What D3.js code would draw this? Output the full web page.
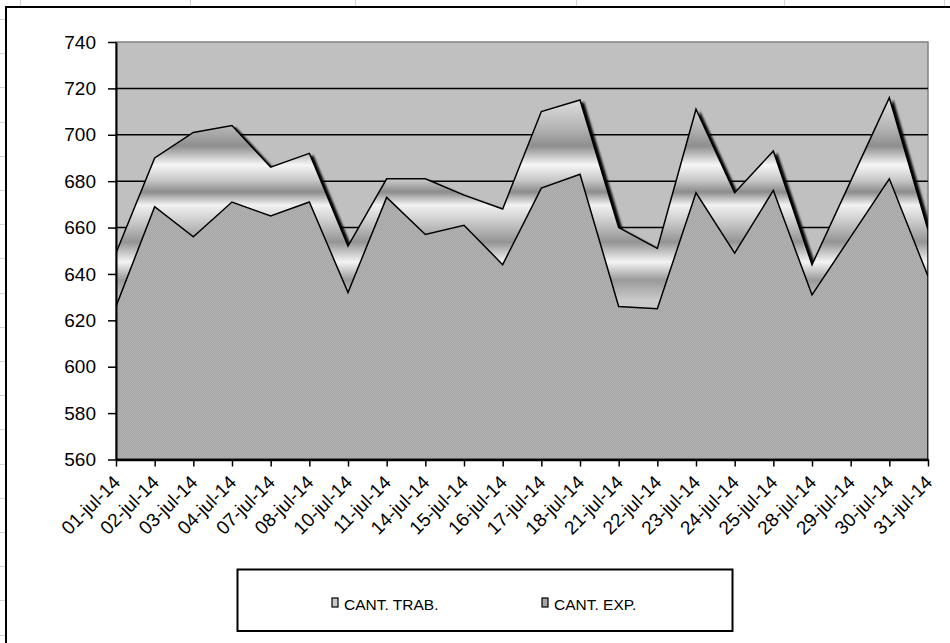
<!DOCTYPE html>
<html>
<head>
<meta charset="utf-8">
<script src="https://cdn.jsdelivr.net/npm/d3@7"></script>
<style>
  body { margin: 0; background: #fff; }
  svg { display: block; font-family: "Liberation Sans", Arial, sans-serif; }
  .tick text { font-size: 19px; fill: #000; }
  .legend-text { font-size: 15.5px; }
</style>
</head>
<body>
<div id="chart"></div>
<script>
// Datos
const dates = ["01-jul-14","02-jul-14","03-jul-14","04-jul-14","07-jul-14","08-jul-14","10-jul-14",
  "11-jul-14","14-jul-14","15-jul-14","16-jul-14","17-jul-14","18-jul-14","21-jul-14","22-jul-14",
  "23-jul-14","24-jul-14","25-jul-14","28-jul-14","29-jul-14","30-jul-14","31-jul-14"]
const cantTrab = [649,690,701,704,686,692,652,681,681,674,668,710,715,660,651,711,675,693,644,680,716,659]
const cantExp  = [626,669,656,671,665,671,632,673,657,661,644,677,683,626,625,675,649,676,631,656,681,639]
const yTicks = [560,580,600,620,640,660,680,700,720,740]
const seriesNames = ["CANT. TRAB.", "CANT. EXP."]

const width = 950
const height = 643

// Área del gráfico
const plot = { left: 116, right: 928, top: 42, bottom: 459.5 }

const svg = d3.select("#chart")
  .append("svg")
  .attr("width", width)
  .attr("height", height)

const defs = svg.append("defs")

// Degradado "cromado" para la serie de atrás
const chrome = defs.append("linearGradient")
  .attr("id", "chrome")
  .attr("gradientUnits", "userSpaceOnUse")
  .attr("x1", 0).attr("x2", 0)
  .attr("y1", plot.top).attr("y2", plot.bottom)
const stops = [
  [42, "#d4d4d4"], [95, "#e6e6e6"], [128, "#b4b4b4"], [146, "#8e8e8e"], [165, "#f6f6f6"],
  [180, "#c8c8c8"], [192, "#8c8c8c"], [205, "#f2f2f2"], [224, "#c4c4c4"], [242, "#949494"],
  [262, "#f4f4f4"], [280, "#9a9a9a"], [300, "#cacaca"], [459, "#b0b0b0"]
]
stops.forEach(s => chrome.append("stop")
  .attr("offset", (s[0] - plot.top) / (plot.bottom - plot.top))
  .attr("stop-color", s[1]))

// Trama punteada para la serie de delante
const pat = defs.append("pattern")
  .attr("id", "dots")
  .attr("patternUnits", "userSpaceOnUse")
  .attr("width", 2).attr("height", 2)
pat.append("rect").attr("width", 2).attr("height", 2).attr("fill", "#a2a2a2")
pat.append("rect").attr("width", 1).attr("height", 1).attr("fill", "#b6b6b6")
pat.append("rect").attr("x", 1).attr("y", 1).attr("width", 1).attr("height", 1).attr("fill", "#b6b6b6")

const blur = defs.append("filter").attr("id", "blur")
blur.append("feGaussianBlur").attr("stdDeviation", 0.9)

defs.append("clipPath").attr("id", "plotClip")
  .append("rect")
  .attr("x", plot.left).attr("y", plot.top)
  .attr("width", plot.right - plot.left).attr("height", plot.bottom - plot.top)

// Cuadrícula de la hoja de cálculo de fondo
const sheet = svg.append("g").attr("stroke", "#d4d4d4").attr("stroke-width", 1)
;[20, 190, 355, 576, 784, 944].forEach(x => sheet.append("line")
  .attr("x1", x + 0.5).attr("x2", x + 0.5).attr("y1", 0).attr("y2", 6))
d3.range(19, height, 34.2).forEach(y => sheet.append("line")
  .attr("x1", 0).attr("x2", 5).attr("y1", Math.round(y) + 0.5).attr("y2", Math.round(y) + 0.5))

// Borde del gráfico
svg.append("rect")
  .attr("x", 6).attr("y", 7)
  .attr("width", 980).attr("height", 700)
  .attr("fill", "#fff")
  .attr("stroke", "#000")
  .attr("stroke-width", 2)

// Escalas
const x = d3.scalePoint().domain(dates).range([plot.left, plot.right])
const y = d3.scaleLinear().domain([560, 740]).range([plot.bottom, plot.top])

// Fondo del área de trazado
svg.append("rect")
  .attr("x", plot.left).attr("y", plot.top)
  .attr("width", plot.right - plot.left).attr("height", plot.bottom - plot.top)
  .attr("fill", "#c0c0c0")
  .attr("stroke", "#808080")
  .attr("stroke-width", 1.5)

// Líneas de división
svg.append("g")
  .selectAll("line")
  .data(yTicks.slice(1, -1))
  .join("line")
  .attr("x1", plot.left).attr("x2", plot.right)
  .attr("y1", d => y(d)).attr("y2", d => y(d))
  .attr("stroke", "#000")
  .attr("stroke-width", 1.5)

const area = vals => d3.area()
  .x((d, i) => x(dates[i]))
  .y0(y(560))
  .y1(d => y(d))(vals)

const plotG = svg.append("g").attr("clip-path", "url(#plotClip)")

// Sombra de la serie de atrás
plotG.append("path")
  .attr("d", area(cantTrab))
  .attr("fill", "#000")
  .attr("transform", "translate(4,2)")
  .attr("filter", "url(#blur)")

plotG.append("path")
  .attr("class", "area trab")
  .attr("d", area(cantTrab))
  .attr("fill", "url(#chrome)")
  .attr("stroke", "#000")
  .attr("stroke-width", 1.5)
  .attr("stroke-linejoin", "miter")

plotG.append("path")
  .attr("class", "area exp")
  .attr("d", area(cantExp))
  .attr("fill", "url(#dots)")
  .attr("stroke", "#000")
  .attr("stroke-width", 1.5)

// Ejes
const yAxisGroup = svg.append("g")
  .attr("transform", `translate(${plot.left}, 0)`)
  .call(d3.axisLeft(y).tickValues(yTicks).tickSize(8).tickPadding(12).tickSizeOuter(0))
yAxisGroup.select(".domain").attr("stroke-width", 2)
yAxisGroup.selectAll(".tick line").attr("stroke-width", 1.5)

const xAxisGroup = svg.append("g")
  .attr("transform", `translate(0, ${plot.bottom})`)
  .call(d3.axisBottom(x).tickSize(7).tickSizeOuter(0))
xAxisGroup.select(".domain").attr("stroke-width", 2.5)
xAxisGroup.selectAll(".tick line").attr("stroke-width", 1.5)
xAxisGroup.selectAll(".tick text")
  .attr("text-anchor", "end")
  .attr("dy", null)
  .attr("y", 0)
  .attr("transform", "translate(5, 24) rotate(-45)")

// Leyenda
const legend = svg.append("g")
legend.append("rect")
  .attr("x", 237.5).attr("y", 569.5)
  .attr("width", 495).attr("height", 61.5)
  .attr("fill", "#fff")
  .attr("stroke", "#000")
  .attr("stroke-width", 2)

const legendX = [332, 542]
const legendFill = ["#c8c8c8", "#a4a4a4"]
seriesNames.forEach((name, i) => {
  legend.append("rect")
    .attr("x", legendX[i]).attr("y", 598)
    .attr("width", 6).attr("height", 9)
    .attr("fill", legendFill[i])
    .attr("stroke", "#000")
    .attr("stroke-width", 1.2)
  legend.append("text")
    .attr("class", "legend-text")
    .attr("x", legendX[i] + 12).attr("y", 609.5)
    .text(name)
})
</script>
</body>
</html>
